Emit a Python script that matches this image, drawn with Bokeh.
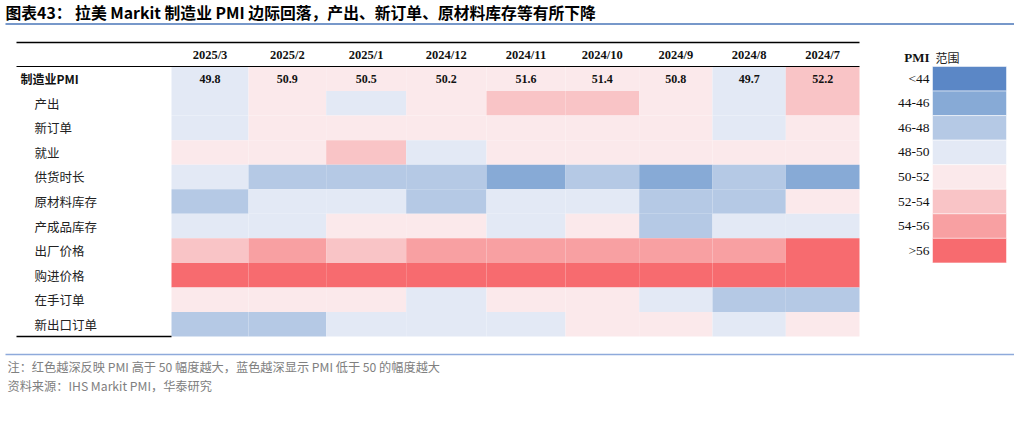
from bokeh.plotting import figure
from bokeh.models import Range1d, ColumnDataSource, LinearColorMapper
from bokeh.transform import transform
from bokeh.core.properties import value
from bokeh.embed import file_html
from bokeh.resources import INLINE

# ---------------- data ----------------
months = ["2025/3", "2025/2", "2025/1", "2024/12", "2024/11", "2024/10", "2024/9", "2024/8", "2024/7"]
row_labels = ["制造业PMI", "产出", "新订单", "就业", "供货时长", "原材料库存",
              "产成品库存", "出厂价格", "购进价格", "在手订单", "新出口订单"]

pmi = [49.8, 50.9, 50.5, 50.2, 51.6, 51.4, 50.8, 49.7, 52.2]
output_idx = [49.5, 50.8, 49.6, 50.6, 52.8, 52.4, 51.0, 49.2, 53.0]
new_orders = [49.3, 51.0, 50.7, 50.3, 51.5, 51.2, 50.6, 48.9, 51.8]
employment = [50.4, 50.7, 52.3, 49.8, 50.5, 50.9, 50.2, 50.3, 50.6]
delivery_times = [48.5, 47.3, 47.5, 47.2, 45.6, 46.8, 45.4, 46.5, 45.8]
raw_inventory = [47.6, 48.6, 48.9, 47.8, 48.8, 49.1, 47.0, 47.4, 50.3]
finished_inventory = [49.2, 48.8, 50.4, 50.2, 49.5, 50.6, 47.5, 48.7, 49.4]
output_prices = [53.6, 55.2, 53.9, 54.8, 55.0, 55.3, 54.6, 54.9, 56.4]
input_prices = [58.5, 59.0, 58.2, 58.8, 59.5, 60.1, 59.3, 59.0, 60.4]
backlog = [50.2, 50.4, 50.1, 49.6, 50.3, 50.5, 49.4, 47.8, 47.6]
export_orders = [47.5, 47.8, 48.6, 49.0, 49.2, 50.8, 50.5, 48.8, 50.7]

series = [pmi, output_idx, new_orders, employment, delivery_times, raw_inventory,
          finished_inventory, output_prices, input_prices, backlog, export_orders]

legend_labels = ["<44", "44-46", "46-48", "48-50", "50-52", "52-54", "54-56", ">56"]
legend_mid = [43, 45, 47, 49, 51, 53, 55, 57]
palette = ["#5B87C6", "#87AAD6", "#B5C9E5", "#E3E9F5", "#FBE9EB", "#F9C4C6", "#F8A0A2", "#F76B6F"]

# ---------------- layout (pixels in picture) ----------------
W, H = 1014, 421
X0 = 171.0
COL_W = [77.0, 77.7, 80.0, 80.3, 79.0, 73.7, 73.3, 73.3, 73.7]
Y0 = 66.0
RH = 24.55
LEG_X0, LEG_X1 = 932.0, 1006.0

mapper = LinearColorMapper(palette=palette, low=42, high=58,
                           low_color=palette[0], high_color=palette[-1])

p = figure(width=W, height=H, x_range=Range1d(0, W), y_range=Range1d(H, 0),
           toolbar_location=None, output_backend="svg", min_border=0,
           x_axis_location=None, y_axis_location=None)
p.grid.visible = False
p.outline_line_color = None
p.background_fill_color = "white"

# column geometry
edges = [X0]
for w in COL_W:
    edges.append(edges[-1] + w)
col_center = [(edges[i] + edges[i + 1]) / 2 for i in range(len(months))]

# heatmap cells
cx, cy, cw, cv = [], [], [], []
for j, vals in enumerate(series):
    for i, v in enumerate(vals):
        cx.append(col_center[i])
        cy.append(Y0 + (j + 0.5) * RH)
        cw.append(COL_W[i])
        cv.append(v)
src = ColumnDataSource(dict(x=cx, y=cy, w=cw, v=cv))
p.rect(x="x", y="y", width="w", height=RH, source=src,
       fill_color=transform("v", mapper), line_color=None)

# PMI values in first row
p.text(x=col_center, y=[Y0 + 0.5 * RH] * len(pmi), text=[f"{v:.1f}" for v in pmi],
       text_font=value("Liberation Serif"), text_font_size=value("12px"), text_font_style="bold",
       text_align="center", text_baseline="middle", text_color="#111111")

# header month labels
p.text(x=col_center, y=[54] * len(months), text=months,
       text_font=value("Liberation Serif"), text_font_size=value("12.5px"), text_font_style="bold",
       text_align="center", text_baseline="middle", text_color="#111111")

# table rules
p.segment(x0=[16, 16, 16], y0=[42, 66, 336], x1=[edges[-1], edges[-1], X0], y1=[42, 66, 336],
          line_color="black", line_width=[1.6, 1.0, 1.6])

# row labels
p.text(x=[20], y=[Y0 + 0.5 * RH], text=[row_labels[0]],
       text_font=value("Noto Sans CJK SC"), text_font_size=value("12px"), text_font_style="bold",
       text_align="left", text_baseline="middle", text_color="#111111")
p.text(x=[34] * (len(row_labels) - 1), y=[Y0 + (j + 0.5) * RH for j in range(1, len(row_labels))],
       text=row_labels[1:],
       text_font=value("Noto Sans CJK SC"), text_font_size=value("12.5px"),
       text_align="left", text_baseline="middle", text_color="#222222")

# legend
lsrc = ColumnDataSource(dict(x=[(LEG_X0 + LEG_X1) / 2] * len(legend_labels),
                             y=[Y0 + (j + 0.5) * RH for j in range(len(legend_labels))],
                             v=legend_mid, t=legend_labels))
p.rect(x="x", y="y", width=LEG_X1 - LEG_X0, height=RH, source=lsrc,
       fill_color=transform("v", mapper), line_color="white", line_alpha=0.5, line_width=1)
p.text(x=929, y="y", text="t", source=lsrc,
       text_font=value("Liberation Serif"), text_font_size=value("13.5px"),
       text_align="right", text_baseline="middle", text_color="#111111")
p.text(x=[929], y=[57], text=["PMI"],
       text_font=value("Liberation Serif"), text_font_size=value("13px"), text_font_style="bold",
       text_align="right", text_baseline="middle", text_color="#111111")
p.text(x=[935], y=[57], text=["范围"],
       text_font=value("Noto Sans CJK SC"), text_font_size=value("12px"),
       text_align="left", text_baseline="middle", text_color="#222222")

# title
p.text(x=[5], y=[12], text=["图表43：  拉美 Markit 制造业 PMI 边际回落，产出、新订单、原材料库存等有所下降"],
       text_font=value("Noto Sans CJK SC"), text_font_size=value("15.8px"), text_font_style="bold",
       text_align="left", text_baseline="middle", text_color="#000000")
p.segment(x0=[5], y0=[23.5], x1=[W], y1=[23.5], line_color="#4A76B8", line_width=1.5)

# footer
p.segment(x0=[5], y0=[354], x1=[W], y1=[354], line_color="#8EAADB", line_width=1.5)
p.text(x=[7, 7], y=[366, 385],
       text=["注：红色越深反映 PMI 高于 50 幅度越大，蓝色越深显示 PMI 低于 50 的幅度越大",
             "资料来源：IHS Markit PMI，华泰研究"],
       text_font=value("Noto Sans CJK SC"), text_font_size=value("12.2px"),
       text_align="left", text_baseline="middle", text_color="#808080")

open("out.html", "w").write(file_html(p, INLINE))
